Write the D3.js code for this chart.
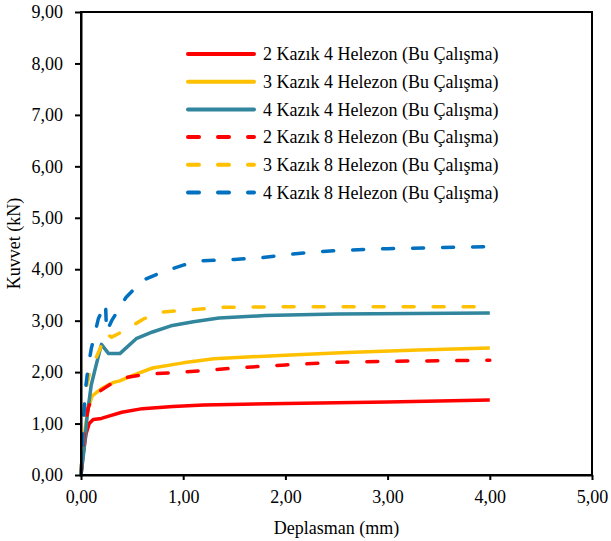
<body>
<script src="https://cdn.jsdelivr.net/npm/d3@7"></script>
<script>

// Eğri verileri: [deplasman (mm), kuvvet (kN)]
const kazik2Helezon4 = [[0,0],[0.02,0.4],[0.05,0.8],[0.08,1.0],[0.12,1.08],[0.2,1.1],[0.28,1.15],[0.4,1.22],[0.6,1.29],[0.9,1.33],[1.2,1.36],[2.0,1.39],[3.0,1.42],[4.0,1.46]];
const kazik3Helezon4 = [[0,0],[0.03,0.75],[0.07,1.3],[0.11,1.54],[0.2,1.68],[0.32,1.8],[0.38,1.83],[0.5,1.93],[0.7,2.08],[1.0,2.18],[1.3,2.26],[2.0,2.33],[2.6,2.38],[3.3,2.43],[4.0,2.47]];
const kazik4Helezon4 = [[0,0],[0.03,0.5],[0.06,1.15],[0.1,1.75],[0.15,2.15],[0.2,2.54],[0.27,2.36],[0.38,2.36],[0.54,2.65],[0.7,2.78],[0.88,2.9],[1.1,2.98],[1.35,3.05],[1.8,3.1],[2.5,3.13],[4.0,3.15]];
const kazik2Helezon8 = [[0,0],[0.03,0.8],[0.07,1.3],[0.12,1.55],[0.2,1.65],[0.3,1.78],[0.45,1.9],[0.65,1.96],[0.9,1.99],[1.2,2.03],[1.5,2.08],[2.0,2.14],[2.5,2.19],[3.0,2.21],[4.0,2.23]];
const kazik3Helezon8 = [[0,0],[0.02,0.9],[0.04,1.6],[0.08,1.95],[0.13,2.2],[0.19,2.47],[0.24,2.75],[0.3,2.68],[0.37,2.75],[0.5,2.9],[0.62,3.04],[0.8,3.17],[1.0,3.2],[1.2,3.23],[1.4,3.26],[2.0,3.27],[4.0,3.27]];
const kazik4Helezon8 = [[0,0],[0.02,0.8],[0.04,1.6],[0.07,2.1],[0.1,2.45],[0.17,3.04],[0.24,3.33],[0.25,2.78],[0.3,3.0],[0.44,3.45],[0.6,3.78],[0.8,3.95],[1.0,4.08],[1.15,4.16],[1.5,4.19],[1.75,4.22],[2.0,4.28],[2.3,4.34],[2.6,4.37],[3.0,4.4],[3.5,4.42],[4.0,4.44]];

const seriesNames = ["2 Kazık 4 Helezon (Bu Çalışma)", "3 Kazık 4 Helezon (Bu Çalışma)", "4 Kazık 4 Helezon (Bu Çalışma)",
                     "2 Kazık 8 Helezon (Bu Çalışma)", "3 Kazık 8 Helezon (Bu Çalışma)", "4 Kazık 8 Helezon (Bu Çalışma)"];
const seriesData = [kazik2Helezon4, kazik3Helezon4, kazik4Helezon4, kazik2Helezon8, kazik3Helezon8, kazik4Helezon8];

const xTicks = [0, 1, 2, 3, 4, 5];
const yTicks = [0, 1, 2, 3, 4, 5, 6, 7, 8, 9];

const colors = ["#ff0000", "#ffc000", "#31859c", "#ff0000", "#ffc000", "#0070c0"];
const dashed = [false, false, false, true, true, true];

// boyutlar
const w = 611, h = 541;
const margin = {left: 81, top: 12, right: 19, bottom: 66};
const serif = "'Liberation Serif', 'Times New Roman', serif";

const locale = d3.formatLocale({decimal: ",", thousands: ".", grouping: [3], currency: ["", ""]});
const fmt = locale.format(".2f");

const xScale = d3.scaleLinear().domain([0, 5]).range([margin.left, w - margin.right]);
const yScale = d3.scaleLinear().domain([0, 9]).range([h - margin.bottom, margin.top]);

const svg = d3.select("body").style("margin", 0)
              .append("svg")
              .attr("width", w)
              .attr("height", h)
              .style("font-family", serif);

const line = d3.line().x(d => xScale(d[0])).y(d => yScale(d[1]));

// eğriler
svg.selectAll("path.seri")
   .data(seriesData)
   .enter()
   .append("path")
   .attr("class", "seri")
   .attr("d", line)
   .attr("fill", "none")
   .attr("stroke", (d, i) => colors[i])
   .attr("stroke-width", 3.5)
   .attr("stroke-linecap", (d, i) => dashed[i] ? "round" : "butt")
   .attr("stroke-linejoin", "round")
   .attr("stroke-dasharray", (d, i) => dashed[i] ? "11,19" : null);

// çerçeve
svg.append("rect")
   .attr("x", xScale(0)).attr("y", yScale(9))
   .attr("width", xScale(5) - xScale(0))
   .attr("height", yScale(0) - yScale(9))
   .attr("fill", "none")
   .attr("stroke", "#000")
   .attr("stroke-width", 2);

// eksenler
const xAxis = d3.axisBottom(xScale).tickValues(xTicks).tickFormat(fmt).tickSize(5).tickSizeOuter(0);
const yAxis = d3.axisLeft(yScale).tickValues(yTicks).tickFormat(fmt).tickSize(6).tickSizeOuter(0);

const gx = svg.append("g")
   .attr("transform", "translate(0," + (h - margin.bottom) + ")")
   .call(xAxis);
const gy = svg.append("g")
   .attr("transform", "translate(" + margin.left + ",0)")
   .call(yAxis);

[gx, gy].forEach(g => {
  g.select(".domain").attr("stroke", "#000").attr("stroke-width", 2);
  g.selectAll(".tick line").attr("stroke", "#000").attr("stroke-width", 2);
  g.selectAll(".tick text").attr("fill", "#000").style("font-size", "18px").style("font-family", serif);
});
gx.selectAll(".tick text").attr("y", 28).attr("dy", 0);
gy.selectAll(".tick text").attr("x", -18);

// eksen başlıkları
svg.append("text")
   .attr("x", (margin.left + w - margin.right) / 2)
   .attr("y", 534)
   .attr("text-anchor", "middle")
   .style("font-size", "18px")
   .text("Deplasman (mm)");

svg.append("text")
   .attr("transform", "translate(20," + ((margin.top + h - margin.bottom) / 2) + ") rotate(-90)")
   .attr("text-anchor", "middle")
   .style("font-size", "18px")
   .text("Kuvvet (kN)");

// lejant
const legend = svg.append("g").attr("transform", "translate(186,54)");
const rows = legend.selectAll("g")
   .data(seriesNames)
   .enter()
   .append("g")
   .attr("transform", (d, i) => "translate(0," + i * 27.7 + ")");

rows.append("line")
   .attr("x1", 2).attr("x2", 68)
   .attr("stroke", (d, i) => colors[i])
   .attr("stroke-width", 4)
   .attr("stroke-linecap", "round")
   .attr("stroke-dasharray", (d, i) => dashed[i] ? "11,19" : null);

rows.append("text")
   .attr("x", 77)
   .attr("dy", "0.35em")
   .style("font-size", "18px")
   .text(d => d);

</script>
</body>
